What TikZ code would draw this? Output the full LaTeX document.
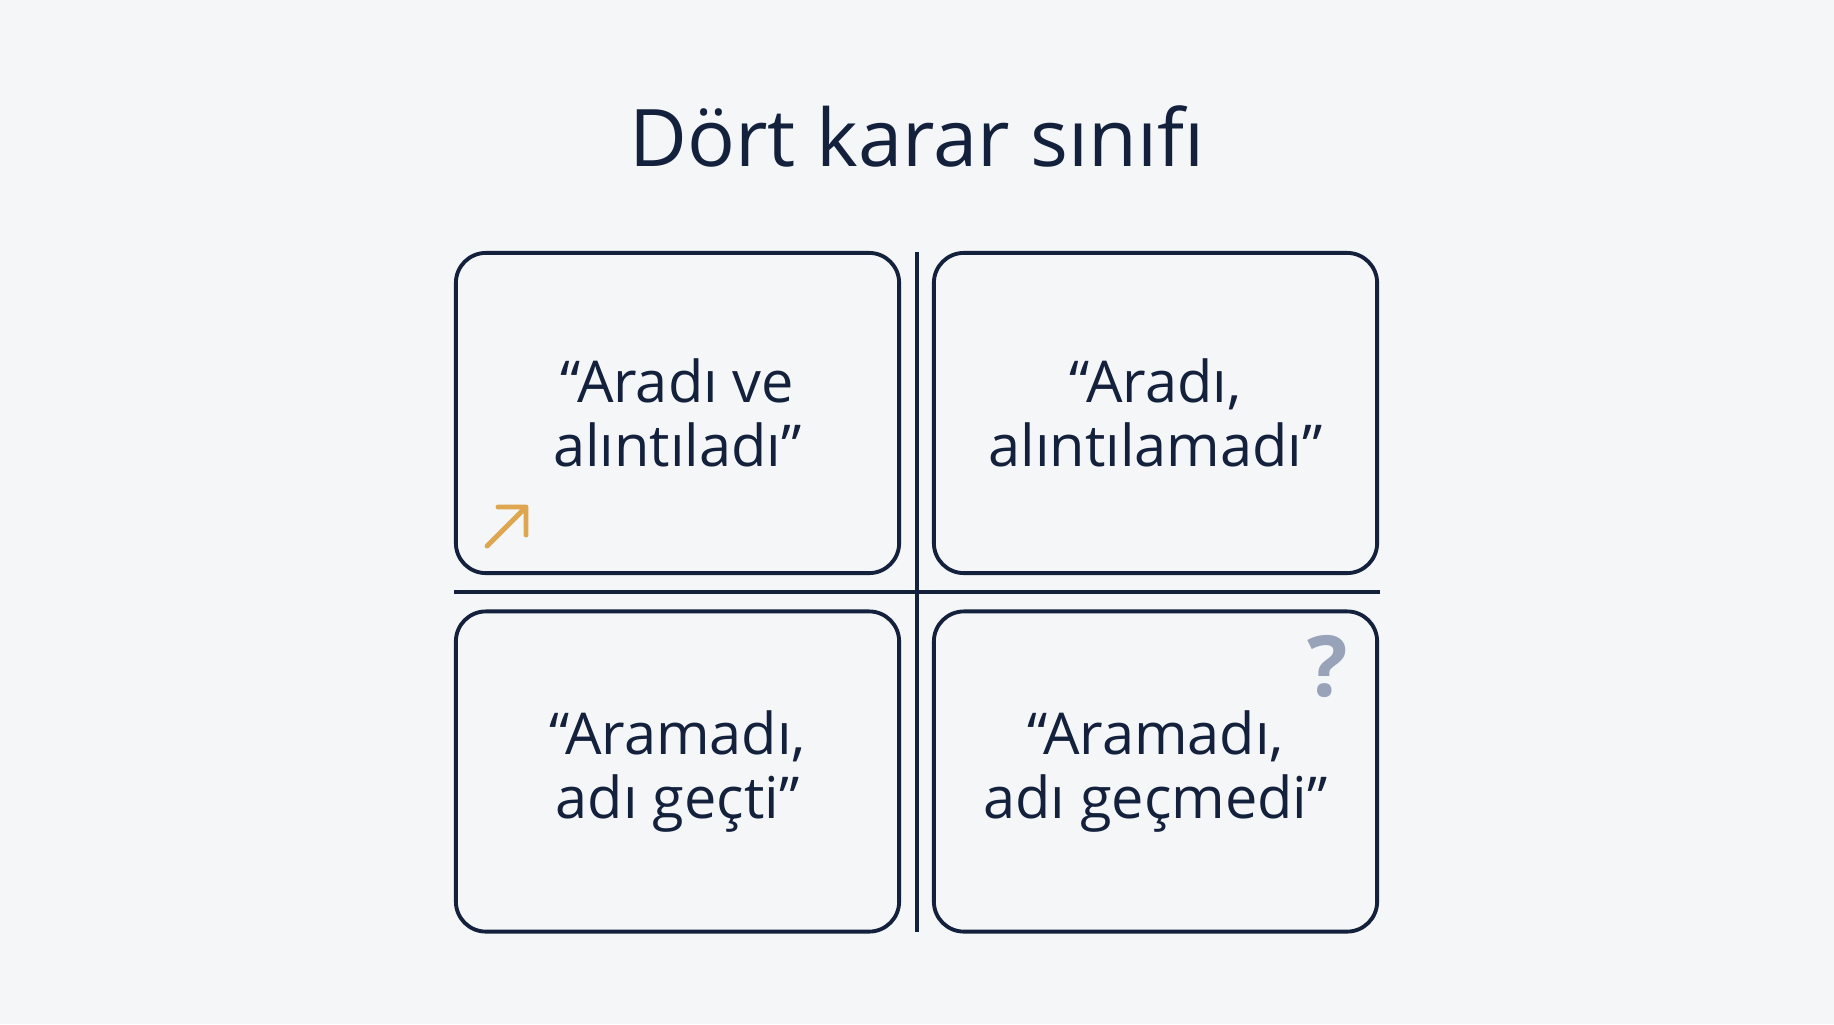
\documentclass[tikz,border=0pt]{standalone}
\usepackage{fontspec}
\setmainfont{Open Sans}
\usepackage{xcolor}
\usepackage{tikz}
\usetikzlibrary{positioning, calc, arrows.meta}

\definecolor{ink}{HTML}{14213D}
\definecolor{paper}{HTML}{F4F6F8}
\definecolor{gold}{HTML}{DFA650}
\definecolor{mist}{HTML}{98A2B8}

\tikzset{
  card/.style={draw=ink, line width=1.1pt, rounded corners=0.3cm, fill=paper,
    minimum width=4.43cm, minimum height=3.2cm, align=center, text=ink,
    font=\fontsize{16.4}{18.4}\selectfont},
  divider/.style={draw=ink, line width=0.95pt},
}

\begin{document}
\begin{tikzpicture}[x=0.01cm, y=-0.01cm]
      \fill[paper] (0,0) rectangle (1834,1024);
      \node[text=ink, font=\fontsize{22.6}{27}\selectfont] (title) at (917,136) {Dört karar sınıfı};
      % the two axes
      \coordinate (vtop) at (917,252);
      \coordinate (vbot) at (917,932);
      \coordinate (hleft) at (454,592);
      \coordinate (hright) at (1380,592);
      \draw[divider] (vtop) -- (vbot);
      \draw[divider] (hleft) -- (hright);
      \foreach \x/\y/\n/\t in {677.5/413/araAlinti/{“Aradı ve\\alıntıladı”},
                               1155.5/413/araYok/{“Aradı,\\alıntılamadı”},
                               677.5/771.5/adGecti/{“Aramadı,\\adı geçti”},
                               1155.5/771.5/adYok/{“Aramadı,\\adı geçmedi”}}{
        \node[card] (\n) at (\x,\y) {\t};
      }
      % corner marks
      \coordinate (upTail) at (487,546);
      \coordinate (upTip) at (526,507);
      \draw[gold, line width=1.4pt, line cap=round, line join=round]
        (upTail) -- (upTip) (498,507) -- (upTip) -- (526,535);
      \node[text=mist, font=\fontsize{24}{27}\bfseries\selectfont] (unsure) at (1328,666) {?};
    \end{tikzpicture}
\end{document}
